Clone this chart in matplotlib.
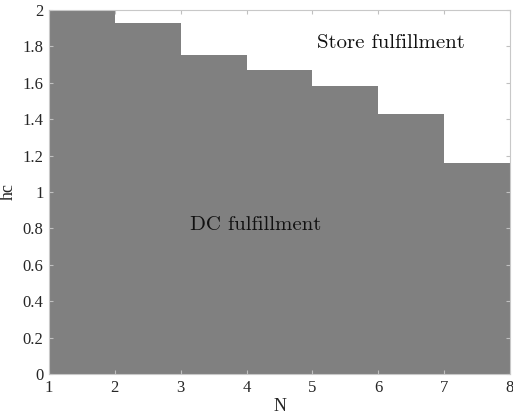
import numpy as np
import matplotlib.pyplot as plt

# hc threshold between DC and store fulfillment for each N interval
N = [1, 2, 3, 4, 5, 6, 7, 8]
hc = [2.0, 1.93, 1.75, 1.67, 1.58, 1.43, 1.16]

plt.rcParams['font.family'] = ['Liberation Serif', 'DejaVu Serif']

fig = plt.figure(figsize=(5.13, 4.15), dpi=100)
ax = fig.add_axes([0.0955, 0.0988, 0.8985, 0.8772])

y = hc + [hc[-1]]
ax.fill_between(N, 0, y, step='post', color='#808080', linewidth=0)

ax.set_xlim(1, 8)
ax.set_ylim(0, 2)
ax.set_xticks(N)
ax.set_yticks(np.arange(0, 2.01, 0.2))
ax.set_yticklabels(['0', '0.2', '0.4', '0.6', '0.8', '1', '1.2', '1.4', '1.6', '1.8', '2'])

ax.tick_params(direction='in', top=True, right=True, length=3, color='#c0c0c0',
               pad=4, labelsize=12, labelcolor='#262626')
for s in ax.spines.values():
    s.set_color('#c8c8c8')
    s.set_linewidth(0.8)

ax.set_xlabel('N', fontsize=13, color='#262626', labelpad=2)
ax.set_ylabel('hc', fontsize=13, color='#262626', labelpad=4)

ax.text(6.19, 1.82, 'Store fulfillment', family='cmr10', fontsize=15,
        ha='center', va='center', color='#111111')
ax.text(4.14, 0.82, 'DC fulfillment', family='cmr10', fontsize=15,
        ha='center', va='center', color='#111111')

fig.savefig('out.png', dpi=100)
